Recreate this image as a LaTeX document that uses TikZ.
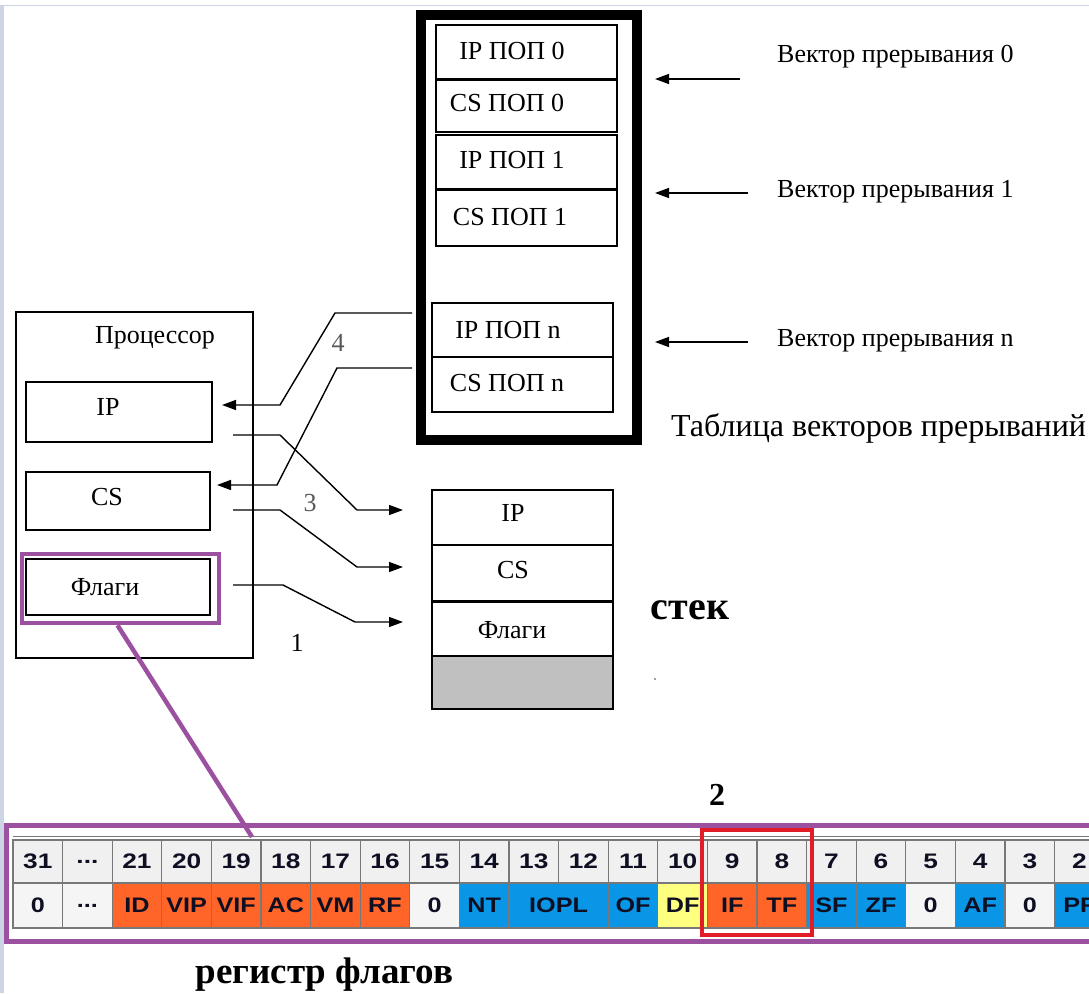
\documentclass[tikz,border=0pt]{standalone}
\usepackage{fontspec}
\usepackage{graphicx}
\setmainfont{Liberation Serif}
\newfontfamily\arialfont{Liberation Sans}
\usetikzlibrary{arrows.meta}
\newcommand\mydots{...}
\definecolor{purp}{RGB}{155,80,160}
\definecolor{redc}{RGB}{225,30,40}
\definecolor{co}{RGB}{255,100,40}
\definecolor{cb}{RGB}{10,150,230}
\definecolor{cy}{RGB}{255,255,128}
\definecolor{cw}{RGB}{245,245,245}
\definecolor{cg}{RGB}{240,240,240}
\definecolor{grid}{RGB}{120,120,120}
\definecolor{stackgray}{RGB}{192,192,192}
\definecolor{strip}{RGB}{205,212,228}
\definecolor{labgray}{RGB}{90,90,90}
\definecolor{txtdark}{RGB}{15,15,35}
\tikzset{
  tbox/.style={draw, line width=1.5pt, inner sep=0pt},
  sertext/.style={font=\fontsize{26}{31}\selectfont, inner sep=0pt},
  lnk/.style={line width=1.4pt, -{Triangle[length=14pt,width=10pt]}},
  rcell/.style={draw=grid, line width=1.3pt, inner sep=0pt, minimum width=49.6pt, text=txtdark,
    font=\arialfont\bfseries\fontsize{21}{24}\selectfont},
}
\begin{document}
\begin{tikzpicture}[x=1pt,y=-1pt]
\useasboundingbox (0,0) rectangle (1089,993);
\clip (0,0) rectangle (1089,993);
\fill[white] (0,0) rectangle (1089,993);
\fill[strip] (0,5) rectangle (4,993);
\draw[strip, line width=1pt] (0,5) -- (1089,5);

% ---- interrupt vector table ----
\node[draw, line width=10pt, minimum width=216pt, minimum height=425pt, inner sep=0pt] (vt) at (529,227.5) {};
\node[tbox, minimum width=181pt, minimum height=54pt] (ip0) at (526.5,52) {};
\node[tbox, minimum width=181pt, minimum height=53pt] (cs0) at (526.5,105.5) {};
\node[tbox, minimum width=181pt, minimum height=54pt] (ip1) at (526.5,162) {};
\node[tbox, minimum width=181pt, minimum height=57pt] (cs1) at (526.5,217.5) {};
\node[tbox, minimum width=181pt, minimum height=54pt] (ipn) at (522.5,330) {};
\node[tbox, minimum width=181pt, minimum height=55pt] (csn) at (522.5,384.5) {};
\draw[line width=2.8pt] (ip0.south west) -- (ip0.south east);
\draw[line width=2.8pt] (ip1.south west) -- (ip1.south east);
\node[sertext] (ip0t) at (512,51) {IP ПОП 0};
\node[sertext] (cs0t) at (507,103) {CS ПОП 0};
\node[sertext] (ip1t) at (512,160) {IP ПОП 1};
\node[sertext] (cs1t) at (510,217) {CS ПОП 1};
\node[sertext] (ipnt) at (508,330) {IP ПОП n};
\node[sertext] (csnt) at (507,383) {CS ПОП n};

\node[sertext, anchor=west] (v0) at (777,57) {Вектор прерывания 0};
\node[sertext, anchor=west] (v1) at (777,192) {Вектор прерывания 1};
\node[sertext, anchor=west] (vn) at (777,341) {Вектор прерывания n};
\coordinate (v0s) at (740,79);
\coordinate (v0e) at (655,79);
\coordinate (v1s) at (748,193);
\coordinate (v1e) at (655,193);
\coordinate (vns) at (748,342);
\coordinate (vne) at (655,342);
\draw[lnk] (v0s) -- (v0e);
\draw[lnk] (v1s) -- (v1e);
\draw[lnk] (vns) -- (vne);
\node[font=\fontsize{32}{37}\selectfont, inner sep=0pt, anchor=west] (vtt) at (671,428) {Таблица векторов прерываний};

% ---- processor ----
\node[tbox, minimum width=237pt, minimum height=346pt] (proc) at (134.5,485) {};
\node[sertext] (proct) at (155,338) {Процессор};
\node[tbox, minimum width=186pt, minimum height=60pt] (pip) at (119,412) {};
\node[tbox, minimum width=184pt, minimum height=58pt] (pcs) at (118,501) {};
\node[tbox, minimum width=184pt, minimum height=56pt] (pfl) at (118,587) {};
\node[sertext] (pipt) at (108,407) {IP};
\node[sertext] (pcst) at (107,497) {CS};
\node[sertext] (pflt) at (105,587) {Флаги};
\node[draw=purp, line width=4.5pt, minimum width=197pt, minimum height=69pt, inner sep=0pt] (pbox) at (120.5,588.5) {};

% ---- stack ----
\node[tbox, minimum width=181pt, minimum height=55pt] (sip) at (522.5,517.5) {};
\node[tbox, minimum width=181pt, minimum height=56pt] (scs) at (522.5,573) {};
\node[tbox, minimum width=181pt, minimum height=55pt] (sfl) at (522.5,628.5) {};
\node[tbox, fill=stackgray, minimum width=181pt, minimum height=53pt] (sgr) at (522.5,682.5) {};
\draw[line width=2.8pt] (scs.south west) -- (scs.south east);
\node[sertext] (sipt) at (513,513) {IP};
\node[sertext] (scst) at (513,570) {CS};
\node[sertext] (sflt) at (512,630) {Флаги};
\node[font=\bfseries\fontsize{40}{48}\selectfont, inner sep=0pt] (stk) at (690,610) {стек};
\fill[gray] (655,679) circle (1.1pt);

% ---- connectors 4 (table -> processor) ----
\coordinate (a4s) at (412,313);
\coordinate (a4a) at (335,313);
\coordinate (a4b) at (280,405);
\coordinate (a4e) at (222,405);
\draw[lnk] (a4s) -- (a4a) -- (a4b) -- (a4e);
\coordinate (b4s) at (412,368);
\coordinate (b4a) at (337,368);
\coordinate (b4b) at (277,485);
\coordinate (b4e) at (217,485);
\draw[lnk] (b4s) -- (b4a) -- (b4b) -- (b4e);
\node[sertext, text=labgray] (l4) at (338,343) {4};
\node[sertext, text=labgray] (l3) at (310,503) {3};
\node[sertext] (l1) at (297,643) {1};

% ---- connectors processor -> stack ----
\coordinate (c1s) at (233,435);
\coordinate (c1a) at (280,435);
\coordinate (c1b) at (357,510);
\coordinate (c1e) at (403,510);
\draw[lnk] (c1s) -- (c1a) -- (c1b) -- (c1e);
\coordinate (c2s) at (233,510);
\coordinate (c2a) at (280,510);
\coordinate (c2b) at (357,567);
\coordinate (c2e) at (403,567);
\draw[lnk] (c2s) -- (c2a) -- (c2b) -- (c2e);
\coordinate (c3s) at (233,585);
\coordinate (c3a) at (283,585);
\coordinate (c3b) at (355,622);
\coordinate (c3e) at (403,622);
\draw[lnk] (c3s) -- (c3a) -- (c3b) -- (c3e);

% ---- flags register ----
\node[draw=purp, line width=5pt, minimum width=1094pt, minimum height=116pt, inner sep=0pt] (reg) at (553,883) {};
\draw[grid, line width=1pt] (13,836) -- (1089,836);
\foreach \i/\n in {0/31,1/\mydots,2/21,3/20,4/19,5/18,6/17,7/16,8/15,9/14,10/13,11/12,12/11,13/10,14/9,15/8,16/7,17/6,18/5,19/4,20/3,21/2}{
  \node[rcell, fill=cg, minimum height=43pt] (n\i) at ({13+49.6*\i+24.8},861.5) {\scalebox{1.25}[1]{\n}};
}
\foreach \i/\lab/\col in {0/0/cw,1/\mydots/cw,2/ID/co,3/VIP/co,4/VIF/co,5/AC/co,6/VM/co,7/RF/co,8/0/cw,9/NT/cb,12/OF/cb,13/DF/cy,14/IF/co,15/TF/co,16/SF/cb,17/ZF/cb,18/0/cw,19/AF/cb,20/0/cw,21/PF/cb}{
  \node[rcell, fill=\col, minimum height=45pt] (f\i) at ({13+49.6*\i+24.8},905.5) {\scalebox{1.2}[1]{\lab}};
}
\node[rcell, fill=cb, minimum width=99.2pt, minimum height=45pt] (f10) at ({13+49.6*10+49.6},905.5) {\scalebox{1.2}[1]{IOPL}};
\node[draw=redc, line width=4.5pt, minimum width=110pt, minimum height=105pt, inner sep=0pt] (redbox) at (757,882.5) {};
\node[font=\bfseries\fontsize{32}{38}\selectfont, inner sep=0pt] (l2) at (717,795) {2};
\node[font=\bfseries\fontsize{37}{44}\selectfont, inner sep=0pt] (regt) at (324.5,975) {регистр флагов};

% purple link from flags box to register
\coordinate (pl) at (252,837);
\draw[purp, line width=4.5pt] ([xshift=-3pt]pbox.south) -- (pl);
\end{tikzpicture}
\end{document}
